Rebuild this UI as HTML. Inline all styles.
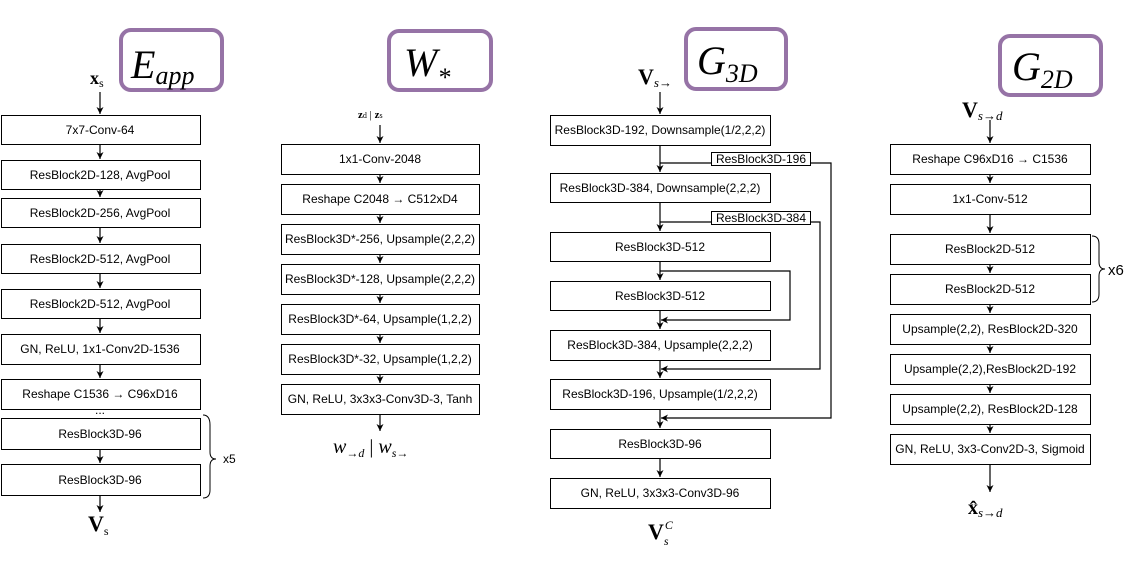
<!DOCTYPE html>
<html><head><meta charset="utf-8"><style>
html,body{margin:0;padding:0;background:#fff;}
svg text{font-family:"Liberation Sans",sans-serif;font-size:12px;fill:#000;}
.m{font-family:"Liberation Serif",serif;}
</style></head><body>
<svg width="1141" height="564" viewBox="0 0 1141 564" xmlns="http://www.w3.org/2000/svg">
<defs><marker id="a" markerWidth="8" markerHeight="8" refX="7" refY="4" orient="auto" markerUnits="userSpaceOnUse"><path d="M0,0.5 L7,4 L0,7.5 L2,4 Z" fill="#000"/></marker></defs>
<g fill="none" stroke="#9673a6" stroke-width="4">
<rect x="121" y="30" width="101" height="60" rx="10"/>
<rect x="389" y="31" width="102" height="59" rx="10"/>
<rect x="686" y="29" width="100" height="60" rx="10"/>
<rect x="1000" y="36" width="101" height="59" rx="10"/>
</g>
<g class="m" font-style="italic">
<text x="131" y="78" class="m" style="font-size:40px">E<tspan style="font-size:26px" dy="6">app</tspan></text>
<text x="404" y="76" class="m" style="font-size:40px">W<tspan style="font-size:26px" dy="10">*</tspan></text>
<text x="697" y="74" class="m" style="font-size:40px">G<tspan style="font-size:26px" dy="8">3D</tspan></text>
<text x="1012" y="80" class="m" style="font-size:40px">G<tspan style="font-size:26px" dy="8">2D</tspan></text>
</g>
<g fill="#fff" stroke="#000" stroke-width="1">
<rect x="1.5" y="115.5" width="199" height="29"/>
<rect x="1.5" y="160.5" width="199" height="29"/>
<rect x="1.5" y="198.5" width="199" height="29"/>
<rect x="1.5" y="244.5" width="199" height="29"/>
<rect x="1.5" y="289.5" width="199" height="29"/>
<rect x="1.5" y="334.5" width="199" height="30"/>
<rect x="1.5" y="379.5" width="199" height="30"/>
<rect x="1.5" y="418.5" width="199" height="31"/>
<rect x="1.5" y="464.5" width="199" height="31"/>
<rect x="281.5" y="144.5" width="198" height="30"/>
<rect x="281.5" y="184.5" width="198" height="30"/>
<rect x="281.5" y="224.5" width="198" height="30"/>
<rect x="281.5" y="264.5" width="198" height="30"/>
<rect x="281.5" y="304.5" width="198" height="30"/>
<rect x="281.5" y="344.5" width="198" height="30"/>
<rect x="281.5" y="384.5" width="198" height="30"/>
<rect x="550.5" y="115.5" width="220" height="30"/>
<rect x="550.5" y="173.5" width="220" height="29"/>
<rect x="550.5" y="232.5" width="220" height="29"/>
<rect x="550.5" y="281.5" width="220" height="29"/>
<rect x="550.5" y="330.5" width="220" height="30"/>
<rect x="550.5" y="379.5" width="220" height="30"/>
<rect x="550.5" y="429.5" width="220" height="29"/>
<rect x="550.5" y="478.5" width="220" height="30"/>
<rect x="890.5" y="144.5" width="200" height="30"/>
<rect x="890.5" y="184.5" width="200" height="30"/>
<rect x="890.5" y="234.5" width="200" height="30"/>
<rect x="890.5" y="274.5" width="200" height="30"/>
<rect x="890.5" y="314.5" width="200" height="30"/>
<rect x="890.5" y="354.5" width="200" height="30"/>
<rect x="890.5" y="394.5" width="200" height="30"/>
<rect x="890.5" y="434.5" width="200" height="30"/>
</g>
<g stroke="#000" stroke-width="1.2" fill="none" marker-end="url(#a)">
<line x1="100" y1="92" x2="100" y2="114"/>
<line x1="100" y1="145" x2="100" y2="159"/>
<line x1="100" y1="190" x2="100" y2="197"/>
<line x1="100" y1="228" x2="100" y2="243"/>
<line x1="100" y1="274" x2="100" y2="288"/>
<line x1="100" y1="319" x2="100" y2="333"/>
<line x1="100" y1="365" x2="100" y2="378"/>
<line x1="100" y1="450" x2="100" y2="463"/>
<line x1="100" y1="496" x2="100" y2="512"/>
<line x1="380" y1="125" x2="380" y2="143"/>
<line x1="380" y1="175" x2="380" y2="183"/>
<line x1="380" y1="215" x2="380" y2="223"/>
<line x1="380" y1="255" x2="380" y2="263"/>
<line x1="380" y1="295" x2="380" y2="303"/>
<line x1="380" y1="335" x2="380" y2="343"/>
<line x1="380" y1="375" x2="380" y2="383"/>
<line x1="380" y1="415" x2="380" y2="431"/>
<line x1="660" y1="92" x2="660" y2="114"/>
<line x1="660" y1="146" x2="660" y2="172"/>
<line x1="660" y1="203" x2="660" y2="231"/>
<line x1="660" y1="262" x2="660" y2="280"/>
<line x1="660" y1="311" x2="660" y2="329"/>
<line x1="660" y1="361" x2="660" y2="378"/>
<line x1="660" y1="410" x2="660" y2="428"/>
<line x1="660" y1="459" x2="660" y2="477"/>
<polyline points="660,163 831,163 831,418 661,418"/>
<polyline points="660,222 820,222 820,369 661,369"/>
<polyline points="660,271 790,271 790,320 661,320"/>
<line x1="990" y1="120" x2="990" y2="143"/>
<line x1="990" y1="175" x2="990" y2="183"/>
<line x1="990" y1="215" x2="990" y2="233"/>
<line x1="990" y1="265" x2="990" y2="273"/>
<line x1="990" y1="305" x2="990" y2="313"/>
<line x1="990" y1="345" x2="990" y2="353"/>
<line x1="990" y1="385" x2="990" y2="393"/>
<line x1="990" y1="425" x2="990" y2="433"/>
<line x1="990" y1="465" x2="990" y2="492"/>
</g>
<g fill="#fff" stroke="#000"><rect x="711.5" y="152.5" width="99" height="13"/><rect x="711.5" y="211.5" width="99" height="13"/></g>
<g fill="none" stroke="#000" stroke-width="1">
<path d="M203,415 Q210,415 210,425 L210,452 Q210,459 216,459 Q210,459 210,466 L210,490 Q210,498 203,498"/>
<path d="M1092,236 Q1099,236 1099,244 L1099,262 Q1099,269 1105,269 Q1099,269 1099,276 L1099,294 Q1099,302 1092,302"/>
</g>
<g text-anchor="middle">
<text x="100" y="134">7x7-Conv-64</text>
<text x="100" y="179">ResBlock2D-128, AvgPool</text>
<text x="100" y="217">ResBlock2D-256, AvgPool</text>
<text x="100" y="263">ResBlock2D-512, AvgPool</text>
<text x="100" y="308">ResBlock2D-512, AvgPool</text>
<text x="100" y="353">GN, ReLU, 1x1-Conv2D-1536</text>
<text x="100" y="398">Reshape C1536 → C96xD16</text>
<text x="100" y="414">...</text>
<text x="100" y="438">ResBlock3D-96</text>
<text x="100" y="484">ResBlock3D-96</text>
<text x="380" y="163">1x1-Conv-2048</text>
<text x="380" y="203">Reshape C2048 → C512xD4</text>
<text x="380" y="243">ResBlock3D*-256, Upsample(2,2,2)</text>
<text x="380" y="283">ResBlock3D*-128, Upsample(2,2,2)</text>
<text x="380" y="323">ResBlock3D*-64, Upsample(1,2,2)</text>
<text x="380" y="363">ResBlock3D*-32, Upsample(1,2,2)</text>
<text x="380" y="403">GN, ReLU, 3x3x3-Conv3D-3, Tanh</text>
<text x="660" y="134">ResBlock3D-192, Downsample(1/2,2,2)</text>
<text x="660" y="192">ResBlock3D-384, Downsample(2,2,2)</text>
<text x="660" y="251">ResBlock3D-512</text>
<text x="660" y="300">ResBlock3D-512</text>
<text x="660" y="349">ResBlock3D-384, Upsample(2,2,2)</text>
<text x="660" y="398">ResBlock3D-196, Upsample(1/2,2,2)</text>
<text x="660" y="448">ResBlock3D-96</text>
<text x="660" y="497">GN, ReLU, 3x3x3-Conv3D-96</text>
<text x="761" y="163">ResBlock3D-196</text>
<text x="761" y="222">ResBlock3D-384</text>
<text x="990" y="163">Reshape C96xD16 → C1536</text>
<text x="990" y="203">1x1-Conv-512</text>
<text x="990" y="253">ResBlock2D-512</text>
<text x="990" y="293">ResBlock2D-512</text>
<text x="990" y="333">Upsample(2,2), ResBlock2D-320</text>
<text x="990" y="373">Upsample(2,2),ResBlock2D-192</text>
<text x="990" y="413">Upsample(2,2), ResBlock2D-128</text>
<text x="990" y="453">GN, ReLU, 3x3-Conv2D-3, Sigmoid</text>
</g>
<text x="223" y="463">x5</text>
<text x="1108" y="275" style="font-size:15px">x6</text>
<g class="m">
<text x="90" y="84" class="m" style="font-size:18px;font-weight:bold">x<tspan style="font-size:12px;font-weight:normal" dy="3">s</tspan></text>
<text x="88" y="531" class="m" style="font-size:22px;font-weight:bold">V<tspan style="font-size:12px;font-weight:normal" dy="4">s</tspan></text>
<text x="358" y="118" class="m" style="font-size:11px;font-weight:bold">z<tspan style="font-size:8px;font-weight:normal">d</tspan><tspan font-weight="normal"> | </tspan>z<tspan style="font-size:8px;font-weight:normal">s</tspan></text>
<text x="333" y="453" class="m" style="font-size:20px;font-style:italic">w<tspan style="font-size:12px" dy="4">→d</tspan><tspan dy="-4" font-style="normal"> | </tspan>w<tspan style="font-size:12px" dy="4">s→</tspan></text>
<text x="638" y="84" class="m" style="font-size:22px;font-weight:bold">V<tspan style="font-size:13px;font-weight:normal;font-style:italic" dy="3">s→</tspan></text>
<text x="648" y="539" class="m" style="font-size:22px;font-weight:bold">V<tspan style="font-size:12px;font-weight:normal;font-style:italic" dx="1" dy="-10">C</tspan><tspan style="font-size:12px;font-weight:normal;font-style:italic" dx="-9" dy="16">s</tspan></text>
<text x="962" y="117" class="m" style="font-size:22px;font-weight:bold">V<tspan style="font-size:13px;font-weight:normal;font-style:italic" dy="3">s→d</tspan></text>
<text x="968" y="514" class="m" style="font-size:20px;font-weight:bold">x̂<tspan style="font-size:13px;font-weight:normal;font-style:italic" dy="3">s→d</tspan></text>
</g>
</svg>
</body></html>
